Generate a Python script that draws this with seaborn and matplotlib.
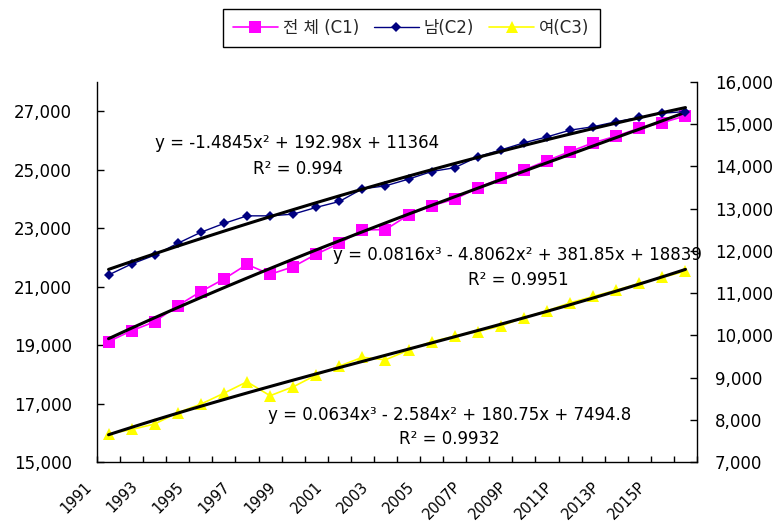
import numpy as np
import pandas as pd
import matplotlib
matplotlib.use('Agg')
import matplotlib.pyplot as plt
import seaborn as sns
from matplotlib.transforms import ScaledTranslation
from matplotlib.lines import Line2D
from matplotlib.ticker import FuncFormatter

years = ['1991', '1992', '1993', '1994', '1995', '1996', '1997', '1998', '1999', '2000',
         '2001', '2002', '2003', '2004', '2005', '2006', '2007P', '2008P', '2009P', '2010P',
         '2011P', '2012P', '2013P', '2014P', '2015P', '2016P']
total = [19120, 19490, 19800, 20350, 20830, 21260, 21760, 21420, 21680, 22110,
         22480, 22940, 22950, 23450, 23770, 23990, 24380, 24700, 24990, 25310,
         25620, 25920, 26150, 26420, 26610, 26840]
male = [11430, 11690, 11900, 12180, 12440, 12650, 12830, 12830, 12870, 13030,
        13170, 13470, 13540, 13700, 13880, 13970, 14230, 14390, 14560, 14700,
        14860, 14940, 15060, 15160, 15260, 15300]
female = [7660, 7770, 7900, 8170, 8370, 8630, 8900, 8570, 8780, 9060,
          9270, 9480, 9420, 9650, 9850, 9980, 10090, 10220, 10420, 10580,
          10770, 10920, 11070, 11230, 11370, 11520]
labels = ['전 체 (C1)', '남(C2)', '여(C3)']
eq_total = ['y = 0.0816x³ - 4.8062x² + 381.85x + 18839', 'R² = 0.9951']
eq_male = ['y = -1.4845x² + 192.98x + 11364', 'R² = 0.994']
eq_female = ['y = 0.0634x³ - 2.584x² + 180.75x + 7494.8', 'R² = 0.9932']

sns.set_theme(style='white')
plt.rcParams['font.family'] = ['DejaVu Sans', 'Noto Sans CJK KR']

W, H = 777, 521
fig = plt.figure(figsize=(W / 100, H / 100), dpi=100)
fig.patch.set_facecolor('white')
ax = fig.add_axes([97 / W, 1 - 462 / H, 600 / W, 380 / H])
ax2 = ax.twinx()

df = pd.DataFrame({'pos': np.arange(len(years)), 'year': years,
                   'total': total, 'male': male, 'female': female})

c_tot, c_m, c_f = '#FF00FF', '#000080', '#FFFF00'
sns.lineplot(data=df, x='pos', y='total', ax=ax, color=c_tot, marker='s',
             markersize=8, markeredgewidth=0, lw=1.2)
sns.lineplot(data=df, x='pos', y='male', ax=ax2, color=c_m, marker='D',
             markersize=5.5, markeredgewidth=0, lw=1)
sns.lineplot(data=df, x='pos', y='female', ax=ax2, color=c_f, marker='^',
             markersize=9, markeredgewidth=0, lw=1.2)

lk = dict(color='black', lw=2.2, zorder=6)
sns.regplot(data=df, x='pos', y='total', ax=ax, order=3, ci=None, scatter=False,
            truncate=True, line_kws=lk)
sns.regplot(data=df, x='pos', y='male', ax=ax2, order=2, ci=None, scatter=False,
            truncate=True, line_kws=lk)
sns.regplot(data=df, x='pos', y='female', ax=ax2, order=3, ci=None, scatter=False,
            truncate=True, line_kws=lk)

for a in (ax, ax2):
    a.set_xlabel('')
    a.set_ylabel('')
    a.grid(False)

ax.set_xlim(-0.5, len(years) - 0.5)
ax.set_ylim(15000, 28000)
ax2.set_ylim(7000, 16000)
ax.set_yticks(np.arange(15000, 27001, 2000))
ax2.set_yticks(np.arange(7000, 16001, 1000))
fmt = FuncFormatter(lambda v, p: f'{int(v):,}')
ax.yaxis.set_major_formatter(fmt)
ax2.yaxis.set_major_formatter(fmt)

ax.set_xticks(df['pos'][::2])
ax.set_xticklabels(years[::2], rotation=45, ha='right', va='center',
                   rotation_mode='anchor')
ax.set_xticks(np.arange(-0.5, len(years), 1), minor=True)
ax.tick_params(axis='x', which='major', length=0, pad=16, labelsize=10.5,
               labelcolor='black', bottom=True)
ax.tick_params(axis='x', which='minor', direction='in', length=4, width=1,
               color='black', bottom=True)
for lbl in ax.get_xticklabels():
    lbl.set_transform(lbl.get_transform() + ScaledTranslation(-0.195, 0, fig.dpi_scale_trans))

ax.tick_params(axis='y', direction='in', length=5, width=1, color='black',
               left=True, pad=18, labelsize=12, labelcolor='black')
ax2.tick_params(axis='y', direction='in', length=5, width=1, color='black',
                right=True, pad=13, labelsize=12, labelcolor='black')

for a in (ax, ax2):
    for s in a.spines.values():
        s.set_color('black')
        s.set_linewidth(1)
    a.spines['top'].set_visible(False)
ax.spines['right'].set_visible(False)
ax2.spines['left'].set_visible(False)
ax2.spines['bottom'].set_visible(False)

def put(xp, yp, s, fs=12):
    fig.text(xp / W, 1 - yp / H, s, ha='center', va='center', fontsize=fs, color='black')

put(297, 143.5, eq_male[0])
put(298, 169, eq_male[1])
put(517, 255, eq_total[0])
put(518, 280, eq_total[1])
put(450, 415.5, eq_female[0])
put(449.5, 439, eq_female[1])

handles = [Line2D([], [], color=c_tot, marker='s', markersize=8, markeredgewidth=0, lw=1.2),
           Line2D([], [], color=c_m, marker='D', markersize=5.5, markeredgewidth=0, lw=1),
           Line2D([], [], color=c_f, marker='^', markersize=9, markeredgewidth=0, lw=1.2)]
leg = fig.legend(handles, labels, loc='center', bbox_to_anchor=(411 / W, 1 - 28 / H),
                 ncol=3, frameon=True, fancybox=False, edgecolor='black', fontsize=12,
                 handlelength=2.7, handletextpad=0.3, columnspacing=0.9, borderpad=0.6,
                 framealpha=1)
leg.get_frame().set_linewidth(1)

fig.savefig('out.png', dpi=100, facecolor='white')
